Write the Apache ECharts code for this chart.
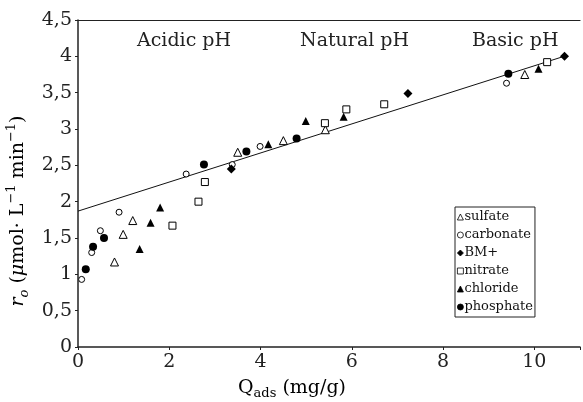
<!DOCTYPE html>
<html>
<head>
<meta charset="utf-8">
<script src="https://cdn.jsdelivr.net/npm/echarts@6/dist/echarts.min.js"></script>
<style>html,body{margin:0;padding:0;background:#fff}#c{width:583px;height:402px}</style>
</head>
<body>
<div id="c"></div>
<script>
// ---- data ----
var sulfateX   = [0.80, 0.99, 1.20, 3.50, 4.50, 5.42, 9.79];
var sulfateY   = [1.17, 1.55, 1.74, 2.68, 2.84, 2.99, 3.75];
var carbonateX = [0.08, 0.30, 0.49, 0.90, 2.37, 3.38, 3.99, 9.39];
var carbonateY = [0.93, 1.30, 1.60, 1.855, 2.38, 2.51, 2.76, 3.63];
var bmX        = [3.36, 7.23, 10.66];
var bmY        = [2.45, 3.49, 4.00];
var nitrateX   = [2.07, 2.64, 2.78, 5.41, 5.88, 6.71, 10.28];
var nitrateY   = [1.67, 2.00, 2.27, 3.08, 3.27, 3.34, 3.92];
var chlorideX  = [1.35, 1.59, 1.80, 4.17, 4.99, 5.82, 10.09];
var chlorideY  = [1.35, 1.71, 1.92, 2.79, 3.11, 3.17, 3.83];
var phosphateX = [0.17, 0.33, 0.57, 2.76, 3.69, 4.79, 9.43];
var phosphateY = [1.07, 1.38, 1.50, 2.51, 2.69, 2.87, 3.76];
var fitX       = [0, 10.65];
var fitY       = [1.87, 4.00];
var xTicks     = [0, 2, 4, 6, 8, 10];
var yTicks     = ['0','0,5','1','1,5','2','2,5','3','3,5','4','4,5'];
var regionLabels = ['Acidic pH', 'Natural pH', 'Basic pH'];

function pairs(xs, ys){ return xs.map(function(x,i){ return [x, ys[i]]; }); }

var FONT = 'DejaVu Serif';
var chart = echarts.init(document.getElementById('c'), null, {renderer:'canvas'});

function sc(name, xs, ys, symbol, size, filled){
  return {
    name: name, type: 'scatter', data: pairs(xs, ys), symbol: symbol, symbolSize: size,
    z: 3,
    itemStyle: { color: filled ? '#000' : '#fff', borderColor: '#000', borderWidth: filled ? 0 : 1, opacity: 1 },
    emphasis: { disabled: true }
  };
}

var option = {
  animation: false,
  backgroundColor: '#fff',
  textStyle: { fontFamily: FONT, color: '#222' },
  grid: { left: 78, top: 20, width: 506.6, height: 327, containLabel: false },
  xAxis: [{
    type: 'value', min: 0, max: 11, interval: 2,
    axisLine: { show: true, lineStyle: { color: '#222', width: 1.5 } },
    axisTick: { show: true, length: 3, lineStyle: { color: '#222' } },
    splitLine: { show: false },
    axisLabel: { fontFamily: FONT, fontSize: 19, color: '#222', margin: 6,
      formatter: function(v){ return xTicks.indexOf(v) >= 0 ? String(v) : ''; } }
  }, {
    type: 'value', position: 'top', min: 0, max: 11,
    axisLine: { show: true, onZero: false, lineStyle: { color: '#222', width: 1.2 } },
    axisTick: { show: false }, axisLabel: { show: false }, splitLine: { show: false }
  }],
  yAxis: {
    type: 'value', min: 0, max: 4.5, interval: 0.5,
    axisLine: { show: true, lineStyle: { color: '#222', width: 1.5 } },
    axisTick: { show: true, length: 3, lineStyle: { color: '#222' } },
    splitLine: { show: false },
    axisLabel: { fontFamily: FONT, fontSize: 19, color: '#222', margin: 6,
      formatter: function(v){ return yTicks[Math.round(v*2)]; } }
  },
  legend: {
    orient: 'vertical', left: 455, top: 207,
    data: ['sulfate','carbonate','BM+','nitrate','chloride','phosphate'],
    itemWidth: 6, itemHeight: 6, itemGap: 0,
    padding: [1, 2, 1, 2],
    borderColor: '#222', borderWidth: 1,
    itemStyle: { borderWidth: 0.8, opacity: 1 },
    textStyle: { fontFamily: FONT, fontSize: 13, color: '#111', lineHeight: 18, padding: [0,0,0,-4] }
  },
  graphic: [
    { type: 'text', left: 137, top: 32, style: { text: regionLabels[0], font: '19px "DejaVu Serif"', fill: '#222' } },
    { type: 'text', left: 300, top: 32, style: { text: regionLabels[1], font: '19px "DejaVu Serif"', fill: '#222' } },
    { type: 'text', left: 472, top: 32, style: { text: regionLabels[2], font: '19px "DejaVu Serif"', fill: '#222' } },
    { type: 'text', x: 292, y: 388, style: {
        text: '{n|Q}{s|ads}{n| (mg/g)}', align: 'center', verticalAlign: 'middle',
        rich: { n: { fontFamily: FONT, fontSize: 19, color: '#222', lineHeight: 24 },
                s: { fontFamily: FONT, fontSize: 13, color: '#222', lineHeight: 24, verticalAlign: 'bottom' } } } },
    { type: 'text', x: 18, y: 211, rotation: Math.PI/2, style: {
        text: '{i|r}{sub|o}{n| (}{i|μ}{n|mol· L}{sup|−1}{n| min}{sup|−1}{n|)}', align: 'center', verticalAlign: 'middle',
        rich: { n: { fontFamily: FONT, fontSize: 19, color: '#222', lineHeight: 26 },
                i: { fontFamily: FONT, fontStyle: 'italic', fontSize: 19, color: '#222', lineHeight: 26 },
                sub: { fontFamily: FONT, fontStyle: 'italic', fontSize: 13, color: '#222', lineHeight: 26, verticalAlign: 'bottom' },
                sup: { fontFamily: FONT, fontSize: 13, color: '#222', lineHeight: 26, verticalAlign: 'top' } } } }
  ],
  series: [
    { name: 'fit', type: 'line', data: pairs(fitX, fitY), symbol: 'none', z: 1,
      lineStyle: { color: '#111', width: 1 }, silent: true },
    sc('sulfate', sulfateX, sulfateY, 'triangle', 8, false),
    sc('carbonate', carbonateX, carbonateY, 'circle', 6, false),
    sc('BM+', bmX, bmY, 'diamond', 9, true),
    sc('nitrate', nitrateX, nitrateY, 'rect', 7, false),
    sc('chloride', chlorideX, chlorideY, 'triangle', 8, true),
    sc('phosphate', phosphateX, phosphateY, 'circle', 8, true)
  ]
};
chart.setOption(option);
</script>
</body>
</html>
